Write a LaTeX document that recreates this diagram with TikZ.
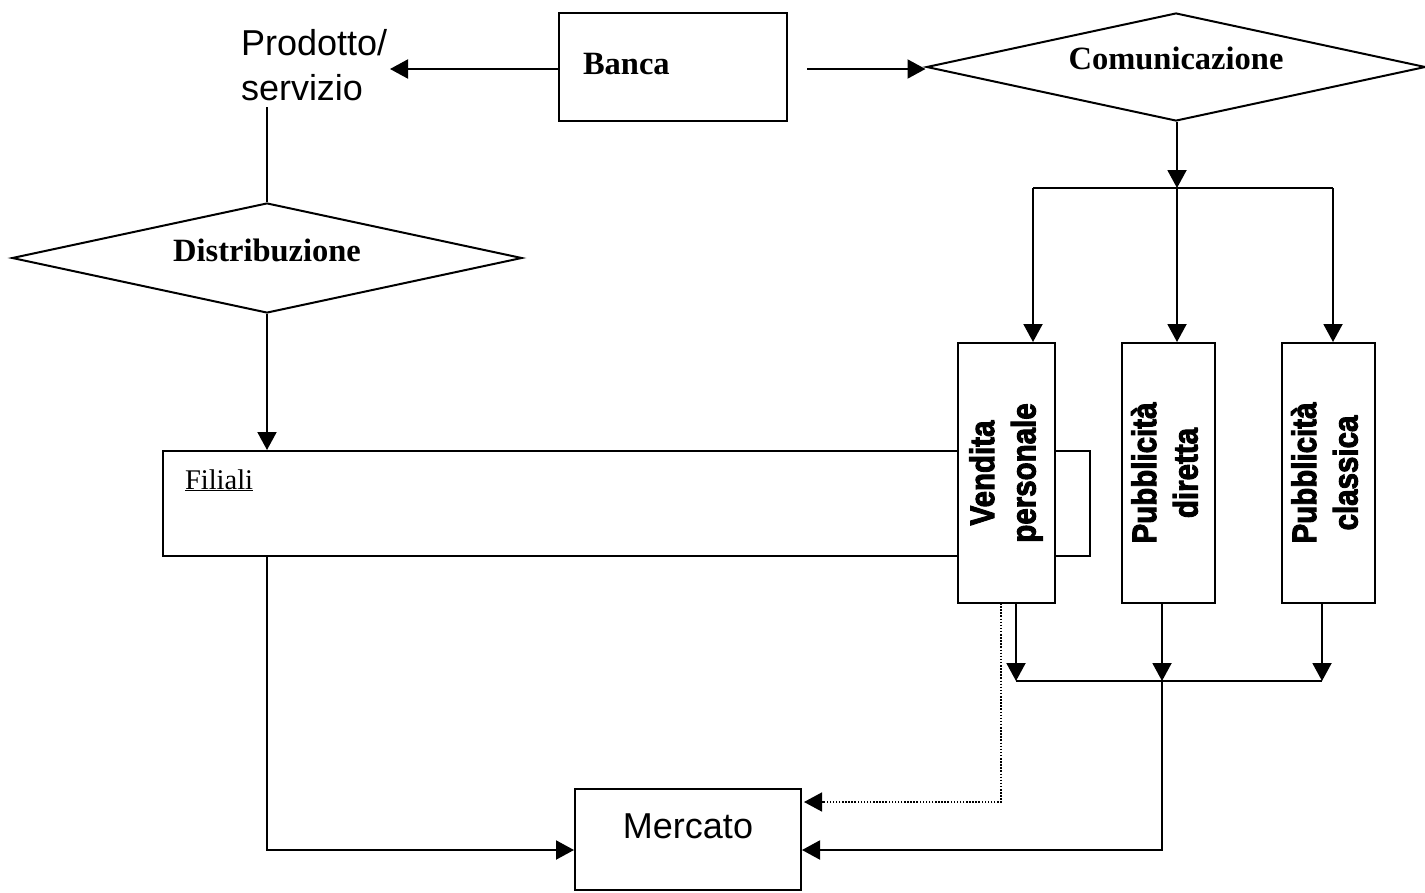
\documentclass[tikz,border=0pt]{standalone}
\usepackage{fontspec}
\setmainfont{Liberation Serif}
\newfontfamily\arialf{Liberation Sans}
\newfontfamily\heavysans{Liberation Sans Bold}[FakeBold=3]
\usetikzlibrary{arrows.meta,shapes.geometric}

% two centred lines turned to read bottom-up, glyphs drawn a little taller
\newcommand\twolines[2]{\rotatebox{90}{\scalebox{1}[1.15]{\begin{tabular}{@{}c@{}}#1\\#2\end{tabular}}}}

\begin{document}
\begin{tikzpicture}[x=1pt,y=-1pt,
  line width=2pt,
  box/.style={draw, rectangle, inner sep=0pt, fill=white},
  rhomb/.style={draw, diamond, inner sep=0pt, fill=white},
  flow/.style={-{Triangle[length=18pt,width=19pt]}},
  weak/.style={line width=1.5pt, dash pattern=on 1.5pt off 1.6pt},
  titlefont/.style={font=\fontsize{32.5}{38}\selectfont\bfseries},
  plainsans/.style={font=\arialf\fontsize{36}{45}\selectfont},
  vert/.style={font=\heavysans\fontsize{29.5}{36}\selectfont}
]
\useasboundingbox (0,0) rectangle (1425,892);

% top row
\node[box, minimum width=228pt, minimum height=108pt,
      label={[titlefont, anchor=west, inner sep=0pt, xshift=24pt, yshift=3pt]west:Banca}]
      (banca) at (673,67) {};
\node[plainsans, align=left, anchor=north west, inner sep=0pt] (prod) at (240,28)
      {Prodotto/\\servizio};
\node[rhomb, minimum width=499pt, minimum height=108pt,
      label={[titlefont, yshift=9pt]center:Comunicazione}]
      (comm) at (1176,67) {};

% distribution side
\node[rhomb, minimum width=510pt, minimum height=110pt,
      label={[titlefont, yshift=8pt]center:Distribuzione}]
      (dist) at (267,258) {};
\node[box, minimum width=927pt, minimum height=105pt,
      label={[font=\fontsize{28.5}{34}\selectfont, anchor=base west, inner sep=0pt,
              xshift=22pt, yshift=-39pt]north west:\underline{Filiali}}]
      (fil) at (626.5,503.5) {};

% communication channels
\node[box, vert, minimum width=97pt, minimum height=260pt] (vp) at (1006.5,473)
      {\twolines{Vendita}{personale}};
\node[box, vert, minimum width=93pt, minimum height=260pt] (pd) at (1168.5,473)
      {\twolines{Pubblicità}{diretta}};
\node[box, vert, minimum width=93pt, minimum height=260pt] (pc) at (1328.5,473)
      {\twolines{Pubblicità}{classica}};

% market
\node[box, minimum width=226pt, minimum height=101pt,
      label={[plainsans, yshift=13.5pt]center:Mercato}]
      (merc) at (688,839.5) {};

% helper points
\coordinate (prodin) at (390,69);
\coordinate (bancaout) at (807,69);
\coordinate (br1) at (1033,188);
\coordinate (br2) at (1177,188);
\coordinate (br3) at (1333,188);
\coordinate (jn1) at (1016,681);
\coordinate (jn2) at (1162,681);
\coordinate (jn3) at (1322,681);
\coordinate (dsrc) at (1001,603);
\coordinate (ydot) at (0,802);
\coordinate (yin) at (0,850);

% Banca outputs
\draw[flow] (banca.west |- prodin) -- (prodin);
\draw[flow] (bancaout) -- (comm.west |- bancaout);

% distribution chain
\draw ([yshift=-6pt]dist.north |- prod.south) -- (dist.north);
\draw[flow] (dist.south) -- (dist.south |- fil.north);
\draw[flow] (dist.south |- fil.south) |- (merc.west |- yin);

% communication branches
\draw[flow] (comm.south -| br2) -- (br2);
\draw (br1) -- (br3);
\draw[flow] (br1) -- (br1 |- vp.north);
\draw[flow] (br2) -- (br2 |- pd.north);
\draw[flow] (br3) -- (br3 |- pc.north);

% channels merge towards the market
\draw[flow] (jn1 |- vp.south) -- (jn1);
\draw[flow] (jn2 |- pd.south) -- (jn2);
\draw[flow] (jn3 |- pc.south) -- (jn3);
\draw (jn1) -- (jn3);
\draw[flow] (jn2) |- (merc.east |- yin);
\draw[flow, weak] (dsrc) |- ([xshift=2pt]merc.east |- ydot);
\end{tikzpicture}
\end{document}
